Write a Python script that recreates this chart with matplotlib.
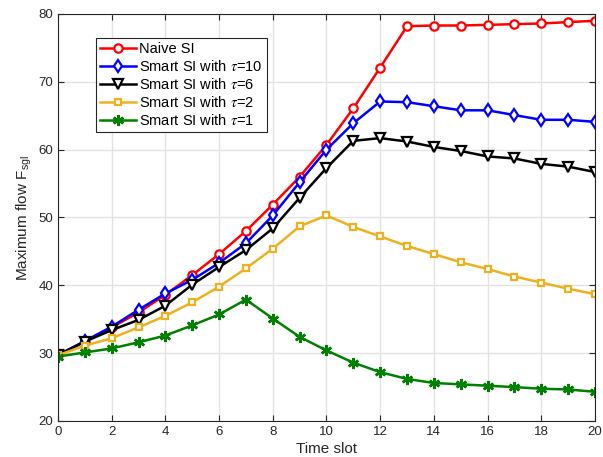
import matplotlib
matplotlib.use("Agg")
import matplotlib.pyplot as plt
import numpy as np

plt.rcParams['font.family'] = ['Liberation Sans', 'DejaVu Sans']
plt.rcParams['mathtext.fontset'] = 'custom'
plt.rcParams['mathtext.rm'] = 'Liberation Sans'
plt.rcParams['mathtext.it'] = 'STIXGeneral:italic'

slots = np.arange(0, 21)

naive = [29.7, 31.7, 33.8, 36.0, 38.6, 41.5, 44.6, 48.0, 51.9, 56.0, 60.7,
         66.1, 72.1, 78.2, 78.3, 78.3, 78.4, 78.5, 78.6, 78.8, 79.0]
tau10 = [29.7, 31.8, 33.9, 36.4, 38.8, 40.8, 43.3, 46.2, 50.3, 55.2, 60.0,
         63.9, 67.1, 67.0, 66.4, 65.8, 65.8, 65.1, 64.4, 64.4, 64.1]
tau6 = [29.7, 31.7, 33.4, 34.9, 37.0, 40.1, 42.7, 45.2, 48.4, 52.9, 57.3,
        61.3, 61.7, 61.2, 60.4, 59.8, 59.0, 58.7, 57.9, 57.5, 56.7]
tau2 = [29.7, 31.1, 32.2, 33.8, 35.5, 37.5, 39.8, 42.5, 45.4, 48.7, 50.3,
        48.6, 47.2, 45.8, 44.6, 43.4, 42.4, 41.3, 40.4, 39.5, 38.7]
tau1 = [29.5, 30.1, 30.7, 31.6, 32.6, 34.1, 35.7, 37.9, 35.1, 32.4, 30.4,
        28.6, 27.2, 26.2, 25.6, 25.4, 25.2, 25.0, 24.75, 24.65, 24.3]

labels = ['Naive SI', r'Smart SI with $\tau$=10', r'Smart SI with $\tau$=6',
          r'Smart SI with $\tau$=2', r'Smart SI with $\tau$=1']

fig = plt.figure(figsize=(6.03, 4.57), dpi=100)
ax = fig.add_axes([0.0962, 0.0788, 0.8905, 0.8906])

ax.plot(slots, naive, '-o', color='#ff0000', lw=1.8, ms=6, mfc='white',
        mew=1.6, label=labels[0])
ax.plot(slots, tau10, '-d', color='#0000ff', lw=1.8, ms=6.5, mfc='white',
        mew=1.6, label=labels[1])
ax.plot(slots, tau6, '-v', color='black', lw=1.8, ms=6.5, mfc='white',
        mew=1.6, label=labels[2])
ax.plot(slots, tau2, '-s', color='#EDB120', lw=1.8, ms=5, mfc='white',
        mew=1.6, label=labels[3])
ax.plot(slots, tau1, '-', marker=(6, 2, 0), color='#008000', lw=1.8, ms=8,
        mew=1.8, label=labels[4])

ax.set_xlim(0, 20)
ax.set_ylim(20, 80)
ax.set_xticks(np.arange(0, 21, 2))
ax.set_yticks(np.arange(20, 81, 10))
ax.grid(True, color='#e3e3e3', lw=1)
ax.set_axisbelow(True)
ax.tick_params(direction='in', top=True, right=True, length=4,
               colors='#262626', labelsize=9.5)
for s in ax.spines.values():
    s.set_color('#262626')
    s.set_linewidth(0.8)

ax.set_xlabel('Time slot', fontsize=11, color='#262626', labelpad=3)
ax.set_ylabel(r'Maximum flow F$_{\mathrm{sgl}}$', fontsize=11,
              color='#262626', labelpad=3)

leg = ax.legend(loc='upper left', bbox_to_anchor=(0.07, 0.942), fontsize=10.5,
                fancybox=False, framealpha=1, edgecolor='#262626',
                handlelength=2.5, handletextpad=0.2, labelspacing=0.2,
                borderpad=0.3, borderaxespad=0)
leg.get_frame().set_linewidth(0.8)

fig.savefig('out.png', dpi=100)
